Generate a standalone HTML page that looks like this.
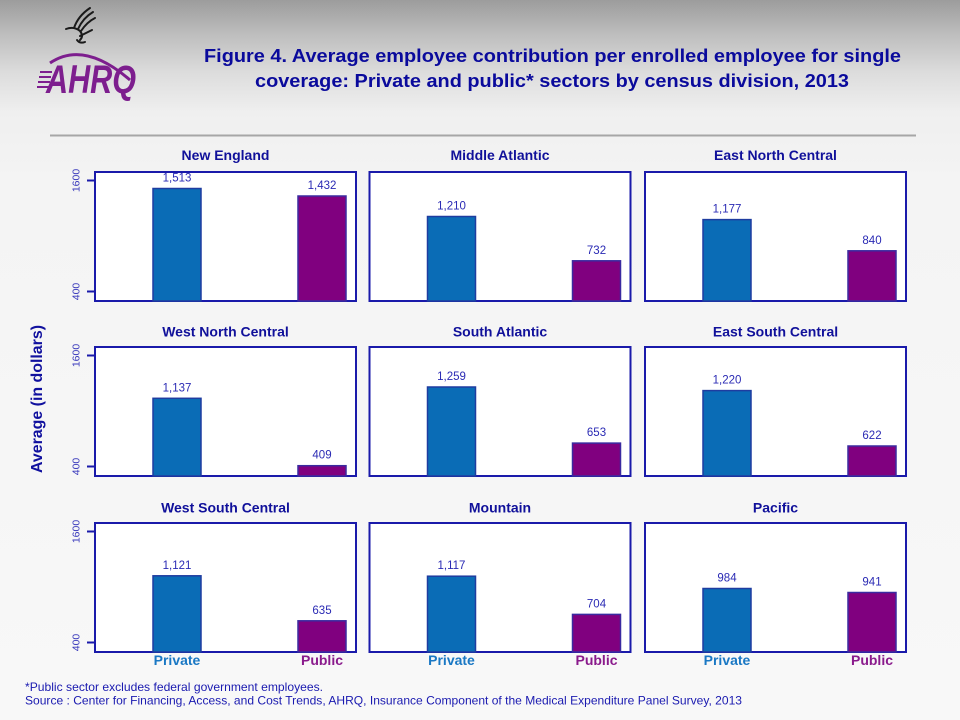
<!DOCTYPE html>
<html>
<head>
<meta charset="utf-8">
<style>
  html,body{margin:0;padding:0;}
  body{width:960px;height:720px;overflow:hidden;font-family:"Liberation Sans",Arial,sans-serif;}
  svg{display:block;}
  .pt{font-family:"Liberation Sans",Arial,sans-serif;font-weight:bold;font-size:14px;fill:#10109a;text-anchor:middle;}
  .vl{font-family:"Liberation Sans",Arial,sans-serif;font-size:11.5px;fill:#2a2ab4;text-anchor:middle;}
  .tk{font-family:"Liberation Sans",Arial,sans-serif;font-size:10.5px;fill:#3a3abc;text-anchor:middle;}
  .box{fill:#ffffff;stroke:#1a1aaa;stroke-width:2;}
  .b1{fill:#0a6cb6;stroke:#1e3ca0;stroke-width:1.5;}
  .b2{fill:#80007f;stroke:#3a2aa0;stroke-width:1.5;}
  .tm{stroke:#1a1aaa;stroke-width:2;}
</style>
</head>
<body>
<svg width="960" height="720" viewBox="0 0 960 720" xmlns="http://www.w3.org/2000/svg">
  <defs>
    <linearGradient id="bg" x1="0" y1="0" x2="0" y2="1">
      <stop offset="0" stop-color="#9c9c9c"/>
      <stop offset="0.045" stop-color="#bcbcbc"/>
      <stop offset="0.10" stop-color="#dcdcdc"/>
      <stop offset="0.155" stop-color="#efefef"/>
      <stop offset="0.25" stop-color="#f4f4f4"/>
      <stop offset="1" stop-color="#f8f8f8"/>
    </linearGradient>
  </defs>
  <rect x="0" y="0" width="960" height="720" fill="url(#bg)"/>

  <!-- Logo: HHS eagle -->
  <g fill="none" stroke="#1a1a1a" stroke-width="2" stroke-linecap="round">
    <path d="M66,29 Q74,26 80,31 Q84,36 80,40"/>
    <path d="M74,28 Q78,16 90,8"/>
    <path d="M78,29 Q83,18 93,12"/>
    <path d="M81,31 Q87,22 95,18"/>
    <path d="M80,36 Q86,33 92,30"/>
    <path d="M77,40 Q80,44 85,42"/>
  </g>
  <!-- Logo: AHRQ -->
  <path d="M50,63 Q84,40 130,80" fill="none" stroke="#7d1e8e" stroke-width="3"/>
  <g stroke="#7d1e8e" stroke-width="2">
    <line x1="40" y1="72" x2="52" y2="72"/>
    <line x1="39" y1="77" x2="51" y2="77"/>
    <line x1="38" y1="82" x2="50" y2="82"/>
    <line x1="37" y1="87" x2="49" y2="87"/>
  </g>
  <text x="46" y="93" font-family="Liberation Sans, Arial, sans-serif" font-weight="bold" font-style="italic" font-size="40" fill="#7d1e8e" textLength="90" lengthAdjust="spacingAndGlyphs">AHRQ</text>

  <!-- Title -->
  <text x="552.5" y="62" text-anchor="middle" font-family="Liberation Sans, Arial, sans-serif" font-weight="bold" font-size="18" fill="#0a0a9c" textLength="697" lengthAdjust="spacingAndGlyphs">Figure 4. Average employee contribution per enrolled employee for single</text>
  <text x="552" y="87" text-anchor="middle" font-family="Liberation Sans, Arial, sans-serif" font-weight="bold" font-size="18" fill="#0a0a9c" textLength="594" lengthAdjust="spacingAndGlyphs">coverage: Private and public* sectors by census division, 2013</text>

  <!-- Separator -->
  <line x1="50" y1="135.5" x2="916" y2="135.5" stroke="#a6a6a6" stroke-width="2"/>

  <!-- Y-axis label -->
  <text transform="translate(42,399) rotate(-90)" x="0" y="0" text-anchor="middle" font-family="Liberation Sans, Arial, sans-serif" font-weight="bold" font-size="16" fill="#10109e" textLength="148" lengthAdjust="spacingAndGlyphs">Average (in dollars)</text>

  <!-- Row 1 -->
  <text class="pt" x="225.5" y="160">New England</text>
  <text class="pt" x="500" y="160">Middle Atlantic</text>
  <text class="pt" x="775.5" y="160">East North Central</text>
  <rect class="box" x="95" y="172" width="261" height="129"/>
  <rect class="box" x="369.5" y="172" width="261" height="129"/>
  <rect class="box" x="645" y="172" width="261" height="129"/>
  <line class="tm" x1="87" y1="180.5" x2="95" y2="180.5"/>
  <line class="tm" x1="87" y1="291.5" x2="95" y2="291.5"/>
  <text class="tk" transform="translate(79.5,180.5) rotate(-90)">1600</text>
  <text class="tk" transform="translate(79.5,291.5) rotate(-90)">400</text>

  <rect class="b1" x="153" y="188.5" width="48" height="112.5"/>
  <text class="vl" x="177" y="181.5">1,513</text>
  <rect class="b2" x="298" y="196" width="48" height="105"/>
  <text class="vl" x="322" y="189">1,432</text>

  <rect class="b1" x="427.5" y="216.5" width="48" height="84.5"/>
  <text class="vl" x="451.5" y="209.5">1,210</text>
  <rect class="b2" x="572.5" y="260.8" width="48" height="40.2"/>
  <text class="vl" x="596.5" y="253.8">732</text>

  <rect class="b1" x="703" y="219.6" width="48" height="81.4"/>
  <text class="vl" x="727" y="212.6">1,177</text>
  <rect class="b2" x="848" y="250.8" width="48" height="50.2"/>
  <text class="vl" x="872" y="243.8">840</text>

  <!-- Row 2 -->
  <text class="pt" x="225.5" y="336.5">West North Central</text>
  <text class="pt" x="500" y="336.5">South Atlantic</text>
  <text class="pt" x="775.5" y="336.5">East South Central</text>
  <rect class="box" x="95" y="347" width="261" height="129"/>
  <rect class="box" x="369.5" y="347" width="261" height="129"/>
  <rect class="box" x="645" y="347" width="261" height="129"/>
  <line class="tm" x1="87" y1="355.5" x2="95" y2="355.5"/>
  <line class="tm" x1="87" y1="466.5" x2="95" y2="466.5"/>
  <text class="tk" transform="translate(79.5,355.5) rotate(-90)">1600</text>
  <text class="tk" transform="translate(79.5,466.5) rotate(-90)">400</text>

  <rect class="b1" x="153" y="398.3" width="48" height="77.7"/>
  <text class="vl" x="177" y="391.3">1,137</text>
  <rect class="b2" x="298" y="465.7" width="48" height="10.3"/>
  <text class="vl" x="322" y="458.7">409</text>

  <rect class="b1" x="427.5" y="387" width="48" height="89"/>
  <text class="vl" x="451.5" y="380">1,259</text>
  <rect class="b2" x="572.5" y="443.1" width="48" height="32.9"/>
  <text class="vl" x="596.5" y="436.1">653</text>

  <rect class="b1" x="703" y="390.6" width="48" height="85.4"/>
  <text class="vl" x="727" y="383.6">1,220</text>
  <rect class="b2" x="848" y="446" width="48" height="30"/>
  <text class="vl" x="872" y="439">622</text>

  <!-- Row 3 -->
  <text class="pt" x="225.5" y="512.5">West South Central</text>
  <text class="pt" x="500" y="512.5">Mountain</text>
  <text class="pt" x="775.5" y="512.5">Pacific</text>
  <rect class="box" x="95" y="523" width="261" height="129"/>
  <rect class="box" x="369.5" y="523" width="261" height="129"/>
  <rect class="box" x="645" y="523" width="261" height="129"/>
  <line class="tm" x1="87" y1="531.5" x2="95" y2="531.5"/>
  <line class="tm" x1="87" y1="642.5" x2="95" y2="642.5"/>
  <text class="tk" transform="translate(79.5,531.5) rotate(-90)">1600</text>
  <text class="tk" transform="translate(79.5,642.5) rotate(-90)">400</text>

  <rect class="b1" x="153" y="575.8" width="48" height="76.2"/>
  <text class="vl" x="177" y="568.8">1,121</text>
  <rect class="b2" x="298" y="620.8" width="48" height="31.2"/>
  <text class="vl" x="322" y="613.8">635</text>

  <rect class="b1" x="427.5" y="576.2" width="48" height="75.8"/>
  <text class="vl" x="451.5" y="569.2">1,117</text>
  <rect class="b2" x="572.5" y="614.4" width="48" height="37.6"/>
  <text class="vl" x="596.5" y="607.4">704</text>

  <rect class="b1" x="703" y="588.5" width="48" height="63.5"/>
  <text class="vl" x="727" y="581.5">984</text>
  <rect class="b2" x="848" y="592.5" width="48" height="59.5"/>
  <text class="vl" x="872" y="585.5">941</text>

  <!-- X labels -->
  <g font-family="Liberation Sans, Arial, sans-serif" font-weight="bold" font-size="14" text-anchor="middle">
    <text x="177" y="665" fill="#1a78c4">Private</text>
    <text x="322" y="665" fill="#8a1a8c">Public</text>
    <text x="451.5" y="665" fill="#1a78c4">Private</text>
    <text x="596.5" y="665" fill="#8a1a8c">Public</text>
    <text x="727" y="665" fill="#1a78c4">Private</text>
    <text x="872" y="665" fill="#8a1a8c">Public</text>
  </g>

  <!-- Footer -->
  <text x="25" y="691" font-family="Liberation Sans, Arial, sans-serif" font-size="12" fill="#1a1ab0" textLength="298" lengthAdjust="spacingAndGlyphs">*Public sector excludes federal government employees.</text>
  <text x="25" y="704.5" font-family="Liberation Sans, Arial, sans-serif" font-size="12" fill="#1a1ab0" textLength="717" lengthAdjust="spacingAndGlyphs">Source :  Center for Financing, Access, and Cost Trends, AHRQ,  Insurance Component of the Medical Expenditure Panel Survey,  2013</text>
</svg>
</body>
</html>
